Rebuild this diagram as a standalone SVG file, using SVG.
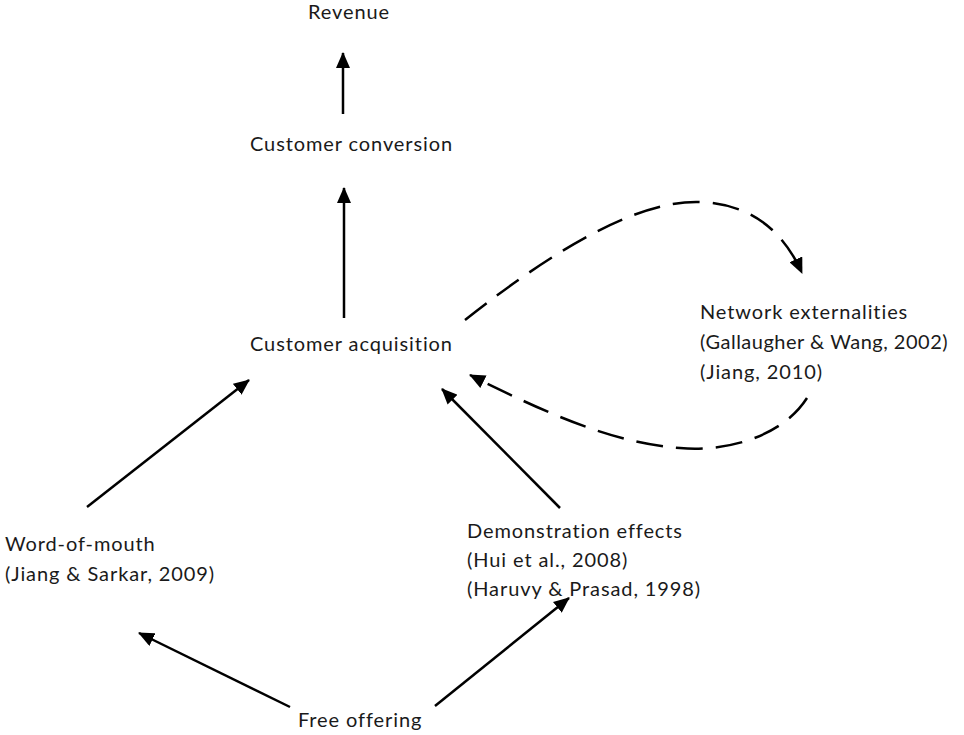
<svg xmlns="http://www.w3.org/2000/svg" width="964" height="735" viewBox="0 0 964 735">
<defs>
<marker id="ah" markerUnits="userSpaceOnUse" markerWidth="16" markerHeight="14" refX="15" refY="7" orient="auto">
<path d="M0,0 L16,7 L0,14 Z" fill="#000"/>
</marker>
<style>
text{font-family:Lato,"Open Sans",sans-serif;font-size:20px;letter-spacing:0.9px;fill:#1a1a1a}
.c{stroke:#000;stroke-width:2.5;fill:none;marker-end:url(#ah)}
.d{stroke-dasharray:27 13}
</style>
</defs>
<rect width="964" height="735" fill="#fff"/>
<g id="revenue"><text x="308" y="19">Revenue</text></g>
<g id="customer-conversion"><text x="250" y="151">Customer conversion</text></g>
<g id="customer-acquisition"><text x="250" y="351">Customer acquisition</text></g>
<g id="network-externalities">
<text x="700" y="319">Network externalities</text>
<text x="700" y="349" style="letter-spacing:0.5px">(Gallaugher &amp; Wang, 2002)</text>
<text x="700" y="379">(Jiang, 2010)</text>
</g>
<g id="word-of-mouth">
<text x="5" y="551">Word-of-mouth</text>
<text x="5" y="581">(Jiang &amp; Sarkar, 2009)</text>
</g>
<g id="demonstration-effects">
<text x="467" y="538">Demonstration effects</text>
<text x="467" y="567">(Hui et al., 2008)</text>
<text x="467" y="596">(Haruvy &amp; Prasad, 1998)</text>
</g>
<g id="free-offering"><text x="298" y="727">Free offering</text></g>
<g id="connectors">
<line class="c" x1="343" y1="114" x2="343" y2="53"/>
<line class="c" x1="344" y1="318" x2="344" y2="188"/>
<line class="c" x1="87" y1="507" x2="249" y2="380"/>
<line class="c" x1="560" y1="508" x2="442" y2="389"/>
<line class="c" x1="290" y1="707" x2="139" y2="633"/>
<line class="c" x1="435" y1="706" x2="569" y2="598"/>
<path class="c d" d="M465,320 C560,245 640,200 700,202 C755,204 785,235 802,273"/>
<path class="c d" d="M807,398 C780,440 720,452 680,448 C610,443 540,410 470,375"/>
</g>
</svg>
